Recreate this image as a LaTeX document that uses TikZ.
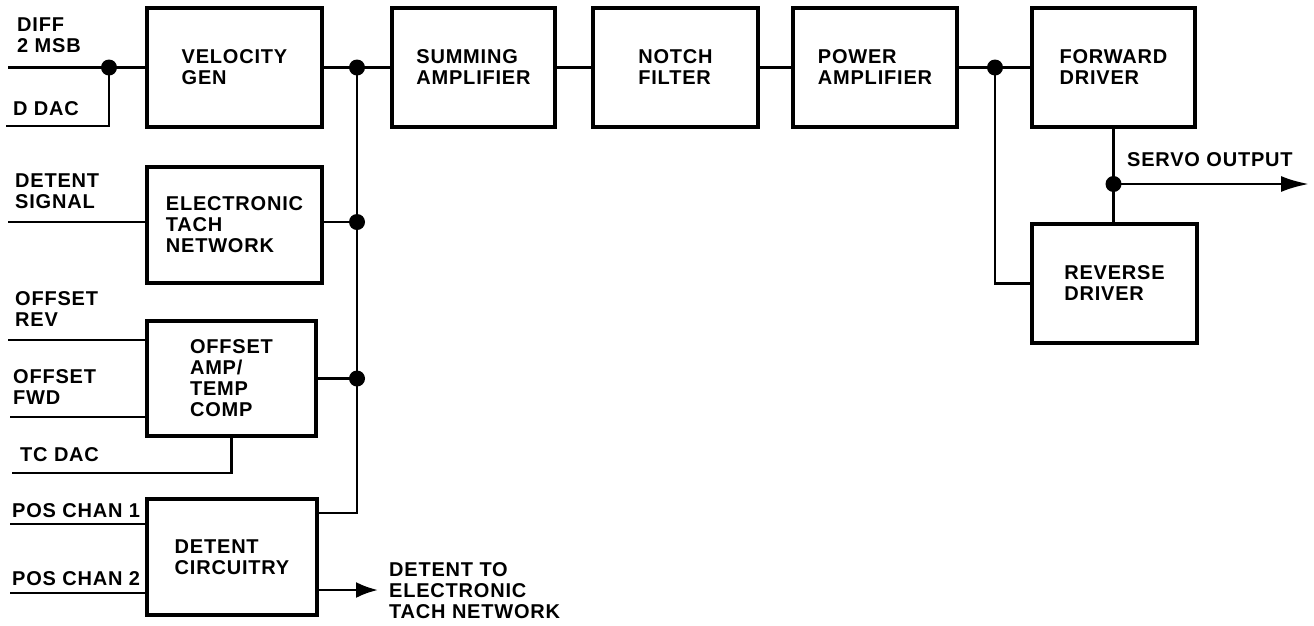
\documentclass[tikz,border=0pt]{standalone}
\usepackage{fontspec}
\setmainfont{Liberation Sans}[LetterSpace=4]
\usetikzlibrary{arrows.meta}
\tikzset{
  blk/.style={draw, line width=4.5pt, inner sep=0pt, align=left},
  wire/.style={line width=2.8pt},
  arrowwire/.style={line width=2.8pt, -{Latex[length=28pt,width=16pt]}},
  shortarrow/.style={line width=2.8pt, -{Latex[length=22pt,width=16pt]}},
  lbl/.style={inner sep=0pt, anchor=west, align=left},
  junction/.style={fill=black}
}
\begin{document}
\begin{tikzpicture}[x=1pt,y=-1pt,font=\fontsize{20}{21}\selectfont\bfseries]
\useasboundingbox (0,0) rectangle (1314,625);

% boxes
\node[blk, minimum width=175pt, minimum height=119pt] (vel) at (234.5,67.5) {VELOCITY\\GEN};
\node[blk, minimum width=175pt, minimum height=116pt] (tach) at (234.5,225) {ELECTRONIC\\TACH\\NETWORK};
\node[blk, minimum width=169pt, minimum height=115pt] (off) at (231.5,378.5) {OFFSET\\AMP/\\TEMP\\COMP};
\node[blk, minimum width=170pt, minimum height=116pt] (det) at (232,557) {DETENT\\CIRCUITRY};
\node[blk, minimum width=163pt, minimum height=119pt] (sum) at (473.5,67.5) {SUMMING\\AMPLIFIER};
\node[blk, minimum width=165pt, minimum height=119pt] (notch) at (675.5,67.5) {NOTCH\\FILTER};
\node[blk, minimum width=164pt, minimum height=119pt] (pow) at (875,67.5) {POWER\\AMPLIFIER};
\node[blk, minimum width=163pt, minimum height=119pt] (fwd) at (1113.5,67.5) {FORWARD\\DRIVER};
\node[blk, minimum width=165pt, minimum height=119pt] (rev) at (1114.5,283.5) {REVERSE\\DRIVER};

% labels
\node[lbl] (lDiff) at (17,35) {DIFF\\2 MSB};
\node[lbl] (lDdac) at (13,108.5) {D DAC};
\node[lbl] (lDetS) at (15,191.5) {DETENT\\SIGNAL};
\node[lbl] (lRev) at (15,309.5) {OFFSET\\REV};
\node[lbl] (lFwd) at (13,387) {OFFSET\\FWD};
\node[lbl] (lTc) at (20,455) {TC DAC};
\node[lbl] (lP1) at (12,510.5) {POS CHAN 1};
\node[lbl] (lP2) at (12,579) {POS CHAN 2};
\node[lbl] (lServo) at (1127,160) {SERVO OUTPUT};
\node[lbl] (lDetTo) at (389,590.5) {DETENT TO\\ELECTRONIC\\TACH NETWORK};

% coordinates
\coordinate (diffS) at (8,67.5);
\coordinate (jA) at (109,67.5);
\coordinate (ddacS) at (6,126);
\coordinate (detS) at (8,222);
\coordinate (revS) at (8,340);
\coordinate (fwdS) at (10,417);
\coordinate (tcS) at (12,473);
\coordinate (p1S) at (10,524);
\coordinate (p2S) at (10,593);
\coordinate (b1) at (357,67.5);
\coordinate (b2) at (357,222);
\coordinate (b3) at (357,378.5);
\coordinate (b4) at (357,513);
\coordinate (j2) at (995,67.5);
\coordinate (j3) at (1113.5,184);
\coordinate (servoE) at (1309,184);
\coordinate (detArrS) at (317,590);
\coordinate (detArrE) at (378,590);

% wires
\draw[wire] (diffS) -- (vel.west);
\draw[wire] (ddacS) -| (jA);
\draw[wire] (detS) -- (tach.west |- detS);
\draw[wire] (revS) -- (off.west |- revS);
\draw[wire] (fwdS) -- (off.west |- fwdS);
\draw[wire] (tcS) -| (off.south);
\draw[wire] (p1S) -- (det.west |- p1S);
\draw[wire] (p2S) -- (det.west |- p2S);
\draw[wire] (vel.east) -- (sum.west);
\draw[wire] (tach.east |- b2) -- (b2);
\draw[wire] (off.east) -- (b3);
\draw[wire] (b1) -- (b4) -- (det.east |- b4);
\draw[wire] (sum.east) -- (notch.west);
\draw[wire] (notch.east) -- (pow.west);
\draw[wire] (pow.east) -- (fwd.west);
\draw[wire] (j2) |- (rev.west);
\draw[wire] (fwd.south) -- (fwd.south |- rev.north);
\draw[arrowwire] (j3) -- (servoE);
\draw[shortarrow] (detArrS) -- (detArrE);

% junction dots
\foreach \p in {jA,b1,b2,b3,j2,j3} \fill[junction] (\p) circle (8pt);
\end{tikzpicture}
\end{document}
